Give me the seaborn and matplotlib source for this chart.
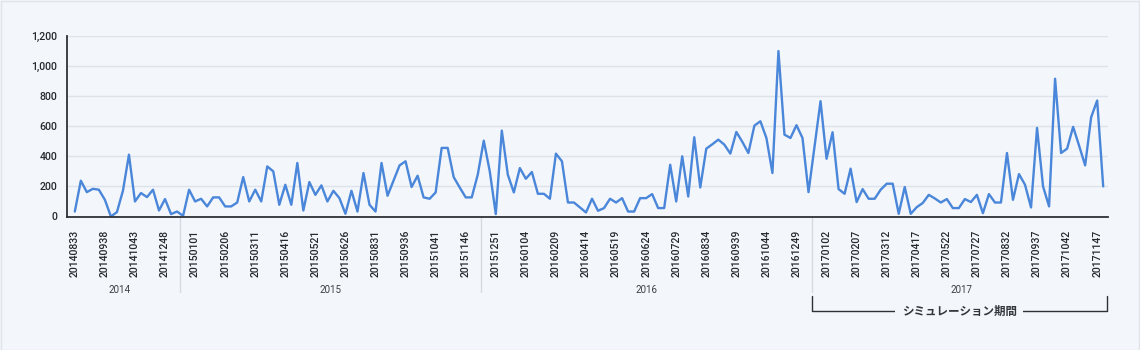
import numpy as np
import pandas as pd
import seaborn as sns
import matplotlib.pyplot as plt
from matplotlib.ticker import FuncFormatter
from matplotlib.transforms import blended_transform_factory
from matplotlib.patches import Rectangle

# Weekly counts, Aug 2014 - Nov 2017
values = [
    33, 238, 162, 184, 178, 111, 0, 29, 171, 411,
    100, 156, 129, 178, 40, 116, 16, 33, 4, 178,
    100, 118, 67, 127, 127, 67, 67, 93, 262, 100,
    178, 100, 333, 300, 78, 211, 78, 356, 40, 229,
    144, 207, 100, 171, 122, 18, 171, 33, 289, 78,
    33, 356, 138, 240, 340, 367, 196, 271, 127, 118,
    160, 456, 456, 262, 193, 127, 127, 278, 504, 300,
    16, 571, 278, 160, 322, 251, 296, 151, 151, 118,
    418, 367, 93, 93, 60, 27, 118, 38, 56, 118,
    93, 122, 33, 33, 122, 122, 149, 56, 56, 344,
    100, 400, 133, 527, 193, 451, 480, 511, 478, 418,
    562, 496, 422, 604, 633, 522, 289, 1100, 544, 522,
    607, 522, 162, 465, 767, 384, 560, 182, 151, 318,
    96, 182, 118, 118, 178, 218, 218, 18, 196, 18,
    62, 90, 144, 120, 93, 116, 56, 56, 116, 96,
    144, 22, 149, 93, 93, 422, 111, 282, 211, 60,
    589, 200, 67, 916, 422, 451, 596, 470, 340, 660,
    771, 200,
]

# Every fifth week is labelled
tick_labels = [
    "20140833", "20140938", "20141043", "20141248",
    "20150101", "20150206", "20150311", "20150416", "20150521",
    "20150626", "20150831", "20150936", "20151041", "20151146",
    "20151251", "20160104", "20160209", "20160414", "20160519",
    "20160624", "20160729", "20160834", "20160939", "20161044", "20161249",
    "20170102", "20170207", "20170312", "20170417", "20170522",
    "20170727", "20170832", "20170937", "20171042", "20171147",
]
years = ["2014", "2015", "2016", "2017"]
ticks_per_year = [4, 10, 11, 10]
period_label = "シミュレーション期間"

W, H = 1140, 350
bg = "#f3f6fa"
line_color = "#4a86d9"
grid_color = "#dde3ea"
dark = "#2e3238"

sns.set_theme(style="white")
plt.rcParams["font.family"] = ["Roboto", "Noto Sans CJK JP", "DejaVu Sans"]

fig = plt.figure(figsize=(W / 100, H / 100), dpi=100, facecolor=bg)
fig.patches.append(Rectangle((0.5 / W, 0.5 / H), 1 - 1.5 / W, 1 - 1.5 / H,
                             transform=fig.transFigure, fill=False,
                             edgecolor="#dfe4ea", linewidth=1))

left, right, top, bottom = 67, 1108, 36, 216.5
ax = fig.add_axes([left / W, 1 - bottom / H, (right - left) / W, (bottom - top) / H])
ax.set_facecolor(bg)

df = pd.DataFrame({"week": np.arange(len(values)), "count": values})
sns.lineplot(data=df, x="week", y="count", ax=ax, color=line_color,
             linewidth=1.7, zorder=3)

ax.set_ylim(0, 1200)
ax.set_yticks(np.arange(0, 1201, 200))
ax.yaxis.set_major_formatter(FuncFormatter(lambda v, p: f"{int(v):,}"))
ax.grid(axis="y", color=grid_color, linewidth=1)
ax.grid(axis="x", visible=False)
ax.set_xlim(-1.3, 171.8)

tick_pos = np.arange(len(tick_labels)) * 5
ax.set_xticks(tick_pos)
ax.set_xticklabels(tick_labels, rotation=90, fontsize=7.6, color="#262a30",
                   fontweight="medium")
ax.tick_params(axis="x", length=0, pad=9.5)
ax.tick_params(axis="y", length=0, pad=7, labelsize=7.7, labelcolor="#262a30")
for lbl in ax.get_yticklabels():
    lbl.set_fontweight("medium")
ax.set_xlabel("")
ax.set_ylabel("")

for side in ("top", "right"):
    ax.spines[side].set_visible(False)
for side in ("left", "bottom"):
    ax.spines[side].set_color(dark)
    ax.spines[side].set_linewidth(1.3)
    ax.spines[side].set_zorder(4)

# Year groups under the tick labels
tr = blended_transform_factory(ax.transData, ax.transAxes)
ax_h = bottom - top


def ay(py):
    return (bottom - py) / ax_h


bounds = np.cumsum(ticks_per_year)
start = 0
for i, (yr, n) in enumerate(zip(years, ticks_per_year)):
    grp = tick_pos[start:start + n]
    ax.text(grp.mean(), ay(290), yr, transform=tr, ha="center", va="center",
            fontsize=7, color="#3a3f46", clip_on=False)
    if i < len(years) - 1:
        sep = (tick_pos[start + n - 1] + tick_pos[start + n]) / 2
        ax.plot([sep, sep], [ay(217), ay(292)], transform=tr, color="#d5dbe2",
                linewidth=1, clip_on=False)
    start += n

# Bracket marking the simulation period (2017)
b0 = (tick_pos[bounds[2] - 1] + tick_pos[bounds[2]]) / 2
b1 = ax.get_xlim()[1] - 0.15
yb_top, yb = ay(296), ay(311)
ax.plot([b0, b0, b1, b1], [yb_top, yb, yb, yb_top], transform=tr,
        color=dark, linewidth=1, clip_on=False)
ax.text((b0 + b1) / 2, yb, period_label, transform=tr, ha="center", va="center",
        fontsize=8.3, fontweight="bold", color="#33373d", clip_on=False,
        family=["Noto Sans CJK JP", "DejaVu Sans"],
        bbox=dict(boxstyle="square,pad=0.55", facecolor=bg, edgecolor="none"))

fig.savefig("out.png", dpi=100, facecolor=bg)
